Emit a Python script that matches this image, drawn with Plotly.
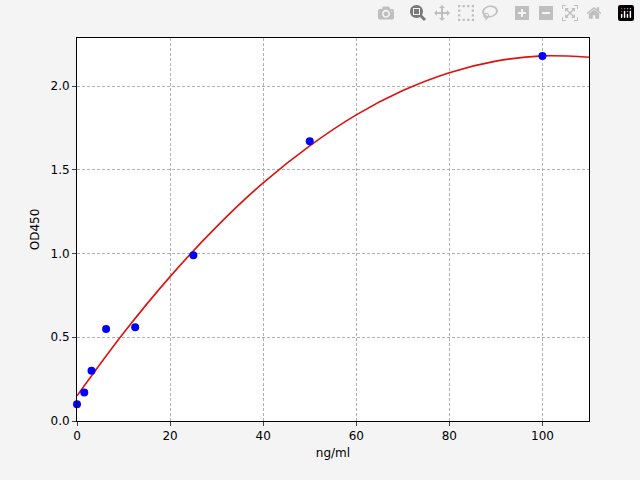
import plotly.graph_objects as go

conc = [0, 1.56, 3.12, 6.25, 12.5, 25, 50, 100]
od = [0.10, 0.17, 0.30, 0.55, 0.56, 0.99, 1.67, 2.18]

fit_x = [0, 10, 20, 30, 40, 50, 60, 70, 80, 90, 100, 110]
fit_y = [0.15, 0.525, 0.862, 1.161, 1.422, 1.643, 1.828, 1.973, 2.080, 2.149, 2.18, 2.172]

fig = go.Figure()
fig.add_trace(go.Scatter(x=fit_x, y=fit_y, mode="lines", line=dict(color="#e0100f", width=1.6, shape="spline"), showlegend=False))
fig.add_trace(go.Scatter(x=conc, y=od, mode="markers", marker=dict(color="#0000ff", size=8), showlegend=False, cliponaxis=False))

axis = dict(showline=True, mirror=True, linecolor="black", linewidth=1, ticks="outside", ticklen=4,
            showgrid=True, gridcolor="#b0b0b0", griddash="3px,2px", zeroline=False,
            tickfont=dict(family="DejaVu Sans", size=12, color="black"),
            title_font=dict(family="DejaVu Sans", size=12, color="black"))
fig.update_xaxes(axis, range=[0, 110], tickvals=[0, 20, 40, 60, 80, 100], title_text="ng/ml", title_standoff=6)
fig.update_yaxes(axis, range=[0, 2.287], tickvals=[0, 0.5, 1.0, 1.5, 2.0], tickformat=".1f", title_text="OD450", title_standoff=8)
fig.update_layout(width=640, height=480, margin=dict(l=77, r=51, t=38, b=59),
                  paper_bgcolor="#f4f4f4", plot_bgcolor="white")
fig.write_html("out.html", post_script="document.body.style.margin='0';")
